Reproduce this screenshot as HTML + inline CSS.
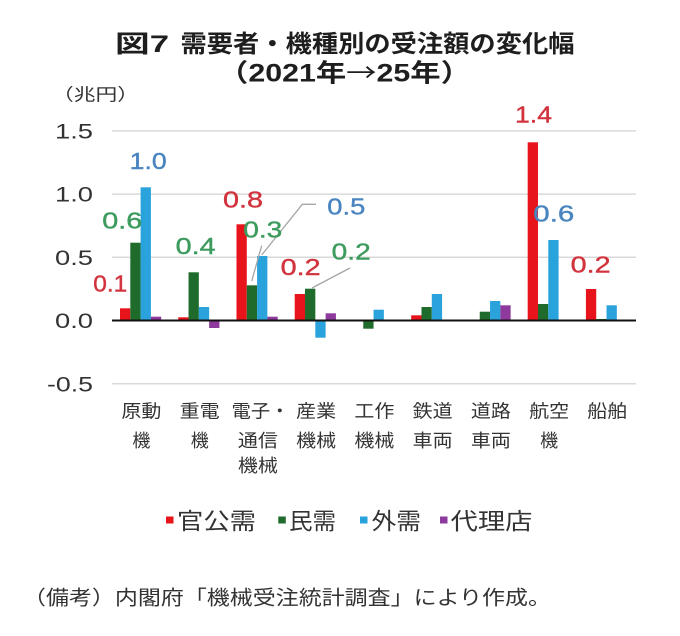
<!DOCTYPE html>
<html>
<head>
<meta charset="utf-8">
<style>
html,body{margin:0;padding:0;background:#fff;}
svg{display:block;}
.jp{font-family:"Liberation Sans","Noto Sans CJK JP",sans-serif;}
.num{font-family:"Liberation Sans","Noto Sans CJK JP",sans-serif;}
</style>
</head>
<body>
<svg width="680" height="636" viewBox="0 0 680 636" xmlns="http://www.w3.org/2000/svg">
<rect x="0" y="0" width="680" height="636" fill="#fff"/>

<!-- Title -->
<text class="jp" x="115" y="52" font-size="24" font-weight="bold" fill="#1e1e1e" textLength="54" lengthAdjust="spacingAndGlyphs">図7</text>
<text class="jp" x="180.5" y="52" font-size="24" font-weight="bold" fill="#1e1e1e" textLength="394" lengthAdjust="spacingAndGlyphs">需要者・機種別の受注額の変化幅</text>
<text class="jp" x="218" y="81.5" font-size="25" font-weight="bold" fill="#1e1e1e" textLength="253" lengthAdjust="spacingAndGlyphs">（2021年<tspan font-family="Noto Sans CJK JP, sans-serif" font-weight="normal">→</tspan>25年）</text>

<!-- Unit -->
<text class="jp" x="52" y="100.5" font-size="17" fill="#333" textLength="87" lengthAdjust="spacingAndGlyphs">（兆円）</text>

<!-- Gridlines -->
<g stroke="#d9d9d9" stroke-width="1.5">
<line x1="112" y1="130.9" x2="636" y2="130.9"/>
<line x1="112" y1="194.1" x2="636" y2="194.1"/>
<line x1="112" y1="257.3" x2="636" y2="257.3"/>
<line x1="112" y1="383.7" x2="636" y2="383.7"/>
</g>

<!-- Y tick labels -->
<g class="num" font-size="21" fill="#333" text-anchor="end">
<text x="93" y="138.5" textLength="38" lengthAdjust="spacingAndGlyphs">1.5</text>
<text x="93" y="201.7" textLength="38" lengthAdjust="spacingAndGlyphs">1.0</text>
<text x="93" y="264.9" textLength="38" lengthAdjust="spacingAndGlyphs">0.5</text>
<text x="93" y="328.1" textLength="38" lengthAdjust="spacingAndGlyphs">0.0</text>
<text x="93" y="391.3" textLength="46" lengthAdjust="spacingAndGlyphs">-0.5</text>
</g>

<!-- Bars -->
<g>
<rect x="120" y="308.3" width="10.3" height="12.2" fill="#e8141c"/>
<rect x="130.3" y="242.7" width="10.3" height="77.8" fill="#1e6b2b"/>
<rect x="140.6" y="187.3" width="10.3" height="133.2" fill="#2aa2db"/>
<rect x="150.9" y="316.7" width="10.3" height="3.8" fill="#8e3a9c"/>
<rect x="178.24" y="317.3" width="10.3" height="3.2" fill="#e8141c"/>
<rect x="188.54" y="272.3" width="10.3" height="48.2" fill="#1e6b2b"/>
<rect x="198.84" y="307" width="10.3" height="13.5" fill="#2aa2db"/>
<rect x="209.14" y="320.5" width="10.3" height="7.5" fill="#8e3a9c"/>
<rect x="236.48" y="224.3" width="10.3" height="96.2" fill="#e8141c"/>
<rect x="246.78" y="285.3" width="10.3" height="35.2" fill="#1e6b2b"/>
<rect x="257.08" y="256" width="10.3" height="64.5" fill="#2aa2db"/>
<rect x="267.38" y="316.7" width="10.3" height="3.8" fill="#8e3a9c"/>
<rect x="294.72" y="294" width="10.3" height="26.5" fill="#e8141c"/>
<rect x="305.02" y="288.7" width="10.3" height="31.8" fill="#1e6b2b"/>
<rect x="315.32" y="320.5" width="10.3" height="17.2" fill="#2aa2db"/>
<rect x="325.62" y="313.3" width="10.3" height="7.2" fill="#8e3a9c"/>
<rect x="352.96" y="319.5" width="10.3" height="1" fill="#e8141c"/>
<rect x="363.26" y="320.5" width="10.3" height="8.2" fill="#1e6b2b"/>
<rect x="373.56" y="309.7" width="10.3" height="10.8" fill="#2aa2db"/>
<rect x="411.2" y="315.3" width="10.3" height="5.2" fill="#e8141c"/>
<rect x="421.5" y="307" width="10.3" height="13.5" fill="#1e6b2b"/>
<rect x="431.8" y="294" width="10.3" height="26.5" fill="#2aa2db"/>
<rect x="469.44" y="319.5" width="10.3" height="1" fill="#e8141c"/>
<rect x="479.74" y="311.7" width="10.3" height="8.8" fill="#1e6b2b"/>
<rect x="490.04" y="301" width="10.3" height="19.5" fill="#2aa2db"/>
<rect x="500.34" y="305.3" width="10.3" height="15.2" fill="#8e3a9c"/>
<rect x="527.68" y="142.3" width="10.3" height="178.2" fill="#e8141c"/>
<rect x="537.98" y="304" width="10.3" height="16.5" fill="#1e6b2b"/>
<rect x="548.28" y="240" width="10.3" height="80.5" fill="#2aa2db"/>
<rect x="585.92" y="289" width="10.3" height="31.5" fill="#e8141c"/>
<rect x="596.22" y="319" width="10.3" height="1.5" fill="#1e6b2b"/>
<rect x="606.52" y="305.3" width="10.3" height="15.2" fill="#2aa2db"/>
</g>

<!-- Zero axis -->
<line x1="112" y1="320.5" x2="636" y2="320.5" stroke="#111" stroke-width="2"/>

<!-- Leader lines -->
<g stroke="#a6a6a6" stroke-width="1.3" fill="none">
<polyline points="316,204.3 302.3,204.3 261.7,255"/>
<line x1="261.7" y1="245.7" x2="251.7" y2="281"/>
<line x1="350" y1="268" x2="312" y2="288"/>
</g>

<!-- Data labels -->
<g class="num" font-size="23" stroke-width="0.4">
<text x="129.7" y="169" fill="#4a85c0" stroke="#4a85c0" textLength="37" lengthAdjust="spacingAndGlyphs">1.0</text>
<text x="102.3" y="228.3" fill="#3d9b5e" stroke="#3d9b5e" textLength="40" lengthAdjust="spacingAndGlyphs">0.6</text>
<text x="93.3" y="291.7" fill="#d2343f" stroke="#d2343f" textLength="34" lengthAdjust="spacingAndGlyphs">0.1</text>
<text x="175.7" y="254" fill="#3d9b5e" stroke="#3d9b5e" textLength="40" lengthAdjust="spacingAndGlyphs">0.4</text>
<text x="223" y="207.3" fill="#d2343f" stroke="#d2343f" textLength="40" lengthAdjust="spacingAndGlyphs">0.8</text>
<text x="243.3" y="237.3" fill="#3d9b5e" stroke="#3d9b5e" textLength="39" lengthAdjust="spacingAndGlyphs">0.3</text>
<text x="327.3" y="214.3" fill="#4a85c0" stroke="#4a85c0" textLength="38" lengthAdjust="spacingAndGlyphs">0.5</text>
<text x="280.7" y="275" fill="#d2343f" stroke="#d2343f" textLength="40" lengthAdjust="spacingAndGlyphs">0.2</text>
<text x="331.7" y="259.3" fill="#3d9b5e" stroke="#3d9b5e" textLength="39" lengthAdjust="spacingAndGlyphs">0.2</text>
<text x="515" y="122.7" fill="#d2343f" stroke="#d2343f" textLength="37" lengthAdjust="spacingAndGlyphs">1.4</text>
<text x="533.3" y="221.7" fill="#4a85c0" stroke="#4a85c0" textLength="41" lengthAdjust="spacingAndGlyphs">0.6</text>
<text x="570.7" y="272.3" fill="#d2343f" stroke="#d2343f" textLength="40" lengthAdjust="spacingAndGlyphs">0.2</text>
</g>

<!-- Category labels -->
<g class="jp" font-size="18" fill="#333" text-anchor="middle">
<text x="141.4" y="417.5" textLength="40" lengthAdjust="spacingAndGlyphs">原動</text>
<text x="141.4" y="447">機</text>
<text x="199.7" y="417.5" textLength="40" lengthAdjust="spacingAndGlyphs">重電</text>
<text x="199.7" y="447">機</text>
<text x="260.5" y="417.5" textLength="58" lengthAdjust="spacingAndGlyphs">電子・</text>
<text x="257.9" y="447" textLength="40" lengthAdjust="spacingAndGlyphs">通信</text>
<text x="257.9" y="472" textLength="40" lengthAdjust="spacingAndGlyphs">機械</text>
<text x="316.1" y="417.5" textLength="40" lengthAdjust="spacingAndGlyphs">産業</text>
<text x="316.1" y="447" textLength="40" lengthAdjust="spacingAndGlyphs">機械</text>
<text x="374.4" y="417.5" textLength="40" lengthAdjust="spacingAndGlyphs">工作</text>
<text x="374.4" y="447" textLength="40" lengthAdjust="spacingAndGlyphs">機械</text>
<text x="432.6" y="417.5" textLength="40" lengthAdjust="spacingAndGlyphs">鉄道</text>
<text x="432.6" y="447" textLength="40" lengthAdjust="spacingAndGlyphs">車両</text>
<text x="490.9" y="417.5" textLength="40" lengthAdjust="spacingAndGlyphs">道路</text>
<text x="490.9" y="447" textLength="40" lengthAdjust="spacingAndGlyphs">車両</text>
<text x="549.1" y="417.5" textLength="40" lengthAdjust="spacingAndGlyphs">航空</text>
<text x="549.1" y="447">機</text>
<text x="607.3" y="417.5" textLength="40" lengthAdjust="spacingAndGlyphs">船舶</text>
</g>

<!-- Legend -->
<rect x="166" y="516.5" width="7.5" height="7" fill="#e8141c"/>
<rect x="278.3" y="516.5" width="7.5" height="7" fill="#1e6b2b"/>
<rect x="360" y="516.5" width="7.5" height="7" fill="#2aa2db"/>
<rect x="440" y="516.5" width="7.5" height="7" fill="#8e3a9c"/>
<g class="jp" font-size="23" fill="#333">
<text x="177" y="529" textLength="79" lengthAdjust="spacingAndGlyphs">官公需</text>
<text x="289" y="529" textLength="47" lengthAdjust="spacingAndGlyphs">民需</text>
<text x="371.5" y="529" textLength="49.5" lengthAdjust="spacingAndGlyphs">外需</text>
<text x="450.5" y="529" textLength="82" lengthAdjust="spacingAndGlyphs">代理店</text>
</g>

<!-- Footnote -->
<text class="jp" x="23" y="604.5" font-size="20" fill="#333" textLength="528" lengthAdjust="spacingAndGlyphs">（備考）内閣府「機械受注統計調査」により作成。</text>
</svg>
</body>
</html>
